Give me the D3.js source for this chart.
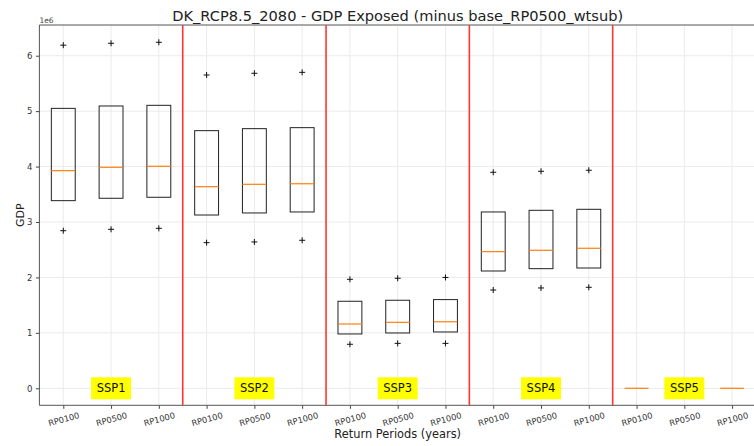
<!DOCTYPE html>
<html><head><meta charset="utf-8">
<script src="https://cdn.jsdelivr.net/npm/d3@7"></script>
<style>body{margin:0;background:#fff;}svg{display:block;font-family:"DejaVu Sans",sans-serif;}</style>
</head><body>
<svg id="c" width="754" height="446"></svg>
<script>
const categories = ["RP0100","RP0500","RP1000","RP0100","RP0500","RP1000","RP0100","RP0500","RP1000","RP0100","RP0500","RP1000","RP0100","RP0500","RP1000"];
const groups = ["SSP1","SSP2","SSP3","SSP4","SSP5"];
// values in units of 1e6
const q1     = [3.385,3.428,3.446, 3.126,3.163,3.181, 0.98,0.998,1.016, 2.116,2.158,2.17, 0,0,0];
const median = [3.926,3.987,4.005, 3.637,3.68,3.69, 1.16,1.19,1.2, 2.465,2.49,2.526, 0,0,0];
const q3     = [5.05,5.093,5.105, 4.648,4.684,4.702, 1.57,1.588,1.6, 3.181,3.211,3.229, 0,0,0];
const fliersHigh = [6.19,6.224,6.242, 5.652,5.683,5.70, 1.966,1.985,2.0, 3.897,3.915,3.933, null,null,null];
const fliersLow  = [2.843,2.868,2.886, 2.627,2.64,2.67, 0.794,0.81,0.81, 1.773,1.81,1.822, null,null,null];
const yTicks = [0,1,2,3,4,5,6];

(function(){
const svg = d3.select("#c");
const pL = 39.4, pR = 756, pT = 25, pB = 405.3;
const x = d3.scaleLinear().domain([0.5, 15.5]).range([pL, pR]);
const y = d3.scaleLinear().domain([-0.307, 6.554]).range([pB, pT]);

// grid
const g = svg.append("g");
g.selectAll("line.vg").data(categories).enter().append("line")
  .attr("x1",(d,i)=>x(i+1)).attr("x2",(d,i)=>x(i+1)).attr("y1",pT).attr("y2",pB)
  .attr("stroke","#ebebeb").attr("stroke-width",1);
g.selectAll("line.hg").data(yTicks).enter().append("line")
  .attr("x1",pL).attr("x2",pR).attr("y1",d=>y(d)).attr("y2",d=>y(d))
  .attr("stroke","#ebebeb").attr("stroke-width",1);

// axes
const xAxis = d3.axisBottom(x).tickValues(d3.range(1,16)).tickFormat(d=>categories[d-1]).tickSize(3.5).tickPadding(3);
const xa = svg.append("g").attr("transform",`translate(0,${pB})`).call(xAxis);
xa.select(".domain").remove();
xa.selectAll(".tick line").attr("stroke","#444");
xa.selectAll(".tick text").attr("font-size",8.3).attr("fill","#333").attr("font-family","DejaVu Sans")
  .attr("text-anchor","middle").attr("dy","0.35em").attr("y",0)
  .attr("transform","translate(0,14) rotate(-15)");

const yAxis = d3.axisLeft(y).tickValues(yTicks).tickFormat(d3.format("d")).tickSize(3.5).tickPadding(3.5);
const ya = svg.append("g").attr("transform",`translate(${pL},0)`).call(yAxis);
ya.select(".domain").remove();
ya.selectAll(".tick line").attr("stroke","#444");
ya.selectAll(".tick text").attr("font-size",8.5).attr("fill","#333").attr("font-family","DejaVu Sans");

// spines
svg.append("line").attr("x1",pL).attr("x2",pL).attr("y1",pT).attr("y2",pB).attr("stroke","#555").attr("stroke-width",1);
svg.append("line").attr("x1",pL).attr("x2",pR).attr("y1",pB).attr("y2",pB).attr("stroke","#555").attr("stroke-width",1);
svg.append("line").attr("x1",pL).attr("x2",pR).attr("y1",pT).attr("y2",pT).attr("stroke","#555").attr("stroke-width",1);

// group separators
svg.selectAll("line.sep").data(groups.slice(1)).enter().append("line")
  .attr("x1",(d,i)=>x(3*(i+1)+0.5)).attr("x2",(d,i)=>x(3*(i+1)+0.5))
  .attr("y1",pT).attr("y2",pB).attr("stroke","#ff3535").attr("stroke-width",1.6);

// boxes
const bw = x(1.25)-x(1);
const boxes = svg.append("g");
categories.forEach((c,i)=>{
  const cx = x(i+1);
  boxes.append("rect").attr("x",cx-bw).attr("y",y(q3[i])).attr("width",2*bw)
    .attr("height",Math.max(0,y(q1[i])-y(q3[i]))).attr("fill","none").attr("stroke","#222").attr("stroke-width",1);
  boxes.append("line").attr("x1",cx-bw).attr("x2",cx+bw).attr("y1",y(median[i])).attr("y2",y(median[i]))
    .attr("stroke","#ff7f0e").attr("stroke-width",1.2);
  [fliersHigh[i], fliersLow[i]].forEach(v=>{
    if(v===null) return;
    const fy = y(v);
    boxes.append("path").attr("d",`M${cx-3},${fy}H${cx+3}M${cx},${fy-3}V${fy+3}`)
      .attr("stroke","#111").attr("stroke-width",1);
  });
});

// SSP labels
groups.forEach((s,i)=>{
  const cx = x(3*i+2), cy = y(0);
  svg.append("rect").attr("x",cx-20).attr("y",cy-11).attr("width",40).attr("height",22).attr("fill","#ffff00");
  svg.append("text").attr("x",cx).attr("y",cy).attr("text-anchor","middle")
    .attr("dominant-baseline","central").attr("font-size",11.5).attr("fill","#111").text(s);
});

// texts
svg.append("text").attr("x",(pL+pR)/2).attr("y",20.5).attr("text-anchor","middle")
  .attr("font-size",14.6).attr("fill","#222").text("DK_RCP8.5_2080 - GDP Exposed (minus base_RP0500_wtsub)");
svg.append("text").attr("x",pL).attr("y",22.5).attr("font-size",7.5).attr("fill","#444").text("1e6");
svg.append("text").attr("x",(pL+pR)/2).attr("y",437.5).attr("text-anchor","middle")
  .attr("font-size",11.4).attr("fill","#222").text("Return Periods (years)");
svg.append("text").attr("transform",`translate(23.5,${(pT+pB)/2}) rotate(-90)`).attr("text-anchor","middle")
  .attr("font-size",11).attr("fill","#222").text("GDP");
})();
</script>
</body></html>
